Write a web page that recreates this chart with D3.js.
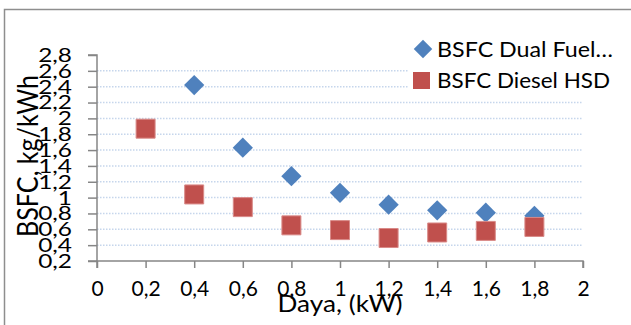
<!DOCTYPE html>
<html>
<head>
<meta charset="utf-8">
<script src="https://cdn.jsdelivr.net/npm/d3@7"></script>
<style>
  body { margin: 0; background: #fff; }
  svg { display: block; font-family: Lato, "Open Sans", sans-serif; }
</style>
</head>
<body>
<div id="chart"></div>
<script>
// Data
var dualPower = [0.4, 0.6, 0.8, 1.0, 1.2, 1.4, 1.6, 1.8];
var dualBsfc = [2.42, 1.63, 1.27, 1.06, 0.91, 0.84, 0.81, 0.77];

var dieselPower = [0.2, 0.4, 0.6, 0.8, 1.0, 1.2, 1.4, 1.6, 1.8];
var dieselBsfc = [1.87, 1.04, 0.88, 0.65, 0.59, 0.49, 0.56, 0.58, 0.63];

var xTicks = [0, 0.2, 0.4, 0.6, 0.8, 1, 1.2, 1.4, 1.6, 1.8, 2];
var yTicks = [0.2, 0.4, 0.6, 0.8, 1, 1.2, 1.4, 1.6, 1.8, 2, 2.2, 2.4, 2.6, 2.8];

var seriesNames = ["BSFC Dual Fuel\u2026", "BSFC Diesel HSD"];
var seriesColors = ["#4F81BD", "#C0504D"];

// Chart params
var svgWidth = 631;
var svgHeight = 325;
var margin = { top: 55, right: 48, bottom: 64, left: 97 };
var chartWidth = svgWidth - margin.left - margin.right;
var chartHeight = svgHeight - margin.top - margin.bottom;

var svg = d3.select("#chart")
    .append("svg")
    .attr("width", svgWidth)
    .attr("height", svgHeight);

// outer chart border (runs off the right / bottom edge)
svg.append("rect")
    .attr("x", 4.5)
    .attr("y", 9.5)
    .attr("width", svgWidth)
    .attr("height", svgHeight)
    .attr("fill", "#fff")
    .attr("stroke", "#8e8e8e")
    .attr("stroke-width", 1.5);

var chartGroup = svg.append("g")
    .attr("transform", `translate(${margin.left}, ${margin.top})`);

var fmt = d => String(d).replace(".", ",");

var xScale = d3.scaleLinear().domain([0, 2]).range([0, chartWidth]);
var yScale = d3.scaleLinear().domain([0.2, 2.8]).range([chartHeight, 0]);

// dotted gridlines (none on top tick or on the axis)
chartGroup.append("g")
    .selectAll("line")
    .data(yTicks.filter(d => d > 0.2 && d < 2.8))
    .join("line")
    .attr("x1", 0)
    .attr("x2", chartWidth)
    .attr("y1", d => yScale(d))
    .attr("y2", d => yScale(d))
    .attr("stroke", "#c6d6ec")
    .attr("stroke-width", 1.5)
    .attr("stroke-dasharray", "1.5,1.5");

// axes
var bottomAxis = d3.axisBottom(xScale).tickValues(xTicks).tickFormat(fmt).tickSize(7).tickPadding(13);
var leftAxis = d3.axisLeft(yScale).tickValues(yTicks).tickFormat(fmt).tickSize(9).tickPadding(16);

var xAxis = chartGroup.append("g")
    .attr("transform", `translate(0, ${chartHeight})`)
    .call(bottomAxis);

var yAxis = chartGroup.append("g")
    .call(leftAxis);

[xAxis, yAxis].forEach(ax => {
    ax.select(".domain").attr("stroke", "#868686").attr("stroke-width", 1.5);
    ax.selectAll(".tick line").attr("stroke", "#868686").attr("stroke-width", 1.5);
    ax.selectAll("text")
        .attr("fill", "#000")
        .attr("font-family", "Lato, sans-serif")
        .attr("font-size", 20);
});
xAxis.select(".domain").attr("d", `M0,7V0H${chartWidth}V7`);
yAxis.select(".domain").attr("d", `M-9,0H0V${chartHeight}H-9`);
xAxis.selectAll("text").attr("font-size", 21);

// y tick labels in the reference are wider than Lato's digits: stretch them a bit
yAxis.selectAll("text").each(function() {
    var w = this.getComputedTextLength();
    d3.select(this)
        .attr("textLength", w * 1.22)
        .attr("lengthAdjust", "spacingAndGlyphs");
});

// markers: Dual fuel diamonds first, diesel squares on top
var diamond = d3.symbol().type(d3.symbolSquare).size(205);
chartGroup.append("g")
    .selectAll("path")
    .data(dualPower.map((p, i) => ({ p: p, v: dualBsfc[i] })))
    .join("path")
    .attr("d", diamond)
    .attr("transform", d => `translate(${xScale(d.p)}, ${yScale(d.v)}) rotate(45)`)
    .attr("fill", seriesColors[0]);

var square = d3.symbol().type(d3.symbolSquare).size(361);
chartGroup.append("g")
    .selectAll("path")
    .data(dieselPower.map((p, i) => ({ p: p, v: dieselBsfc[i] })))
    .join("path")
    .attr("d", square)
    .attr("transform", d => `translate(${xScale(d.p)}, ${yScale(d.v)})`)
    .attr("fill", seriesColors[1])
    .attr("stroke", "#d98a88")
    .attr("stroke-width", 1);

// axis titles
svg.append("text")
    .attr("transform", "translate(38, 156) rotate(-90)")
    .attr("text-anchor", "middle")
    .attr("font-size", 29)
    .attr("textLength", 162)
    .attr("lengthAdjust", "spacingAndGlyphs")
    .text("BSFC, kg/kWh");

svg.append("text")
    .attr("x", margin.left + chartWidth / 2)
    .attr("y", 312)
    .attr("text-anchor", "middle")
    .attr("font-size", 23)
    .attr("textLength", 125)
    .attr("lengthAdjust", "spacingAndGlyphs")
    .text("Daya, (kW)");

// legend
var legend = svg.append("g");
legend.append("rect")
    .attr("x", 408)
    .attr("y", 32)
    .attr("width", 215)
    .attr("height", 62)
    .attr("fill", "#fff");

var legendItems = legend.selectAll("g.item")
    .data(seriesNames)
    .join("g")
    .attr("class", "item")
    .attr("transform", (d, i) => `translate(0, ${i * 31})`);

legendItems.append("path")
    .attr("d", (d, i) => d3.symbol().type(d3.symbolSquare).size(i === 0 ? 170 : 289)())
    .attr("transform", (d, i) => i === 0 ? "translate(423, 49) rotate(45)" : "translate(421.5, 49.5)")
    .attr("fill", (d, i) => seriesColors[i]);

legendItems.append("text")
    .attr("x", 437)
    .attr("y", 57)
    .attr("font-size", 22)
    .attr("textLength", (d, i) => i === 0 ? 176 : 173)
    .attr("lengthAdjust", "spacingAndGlyphs")
    .text(d => d);
</script>
</body>
</html>
